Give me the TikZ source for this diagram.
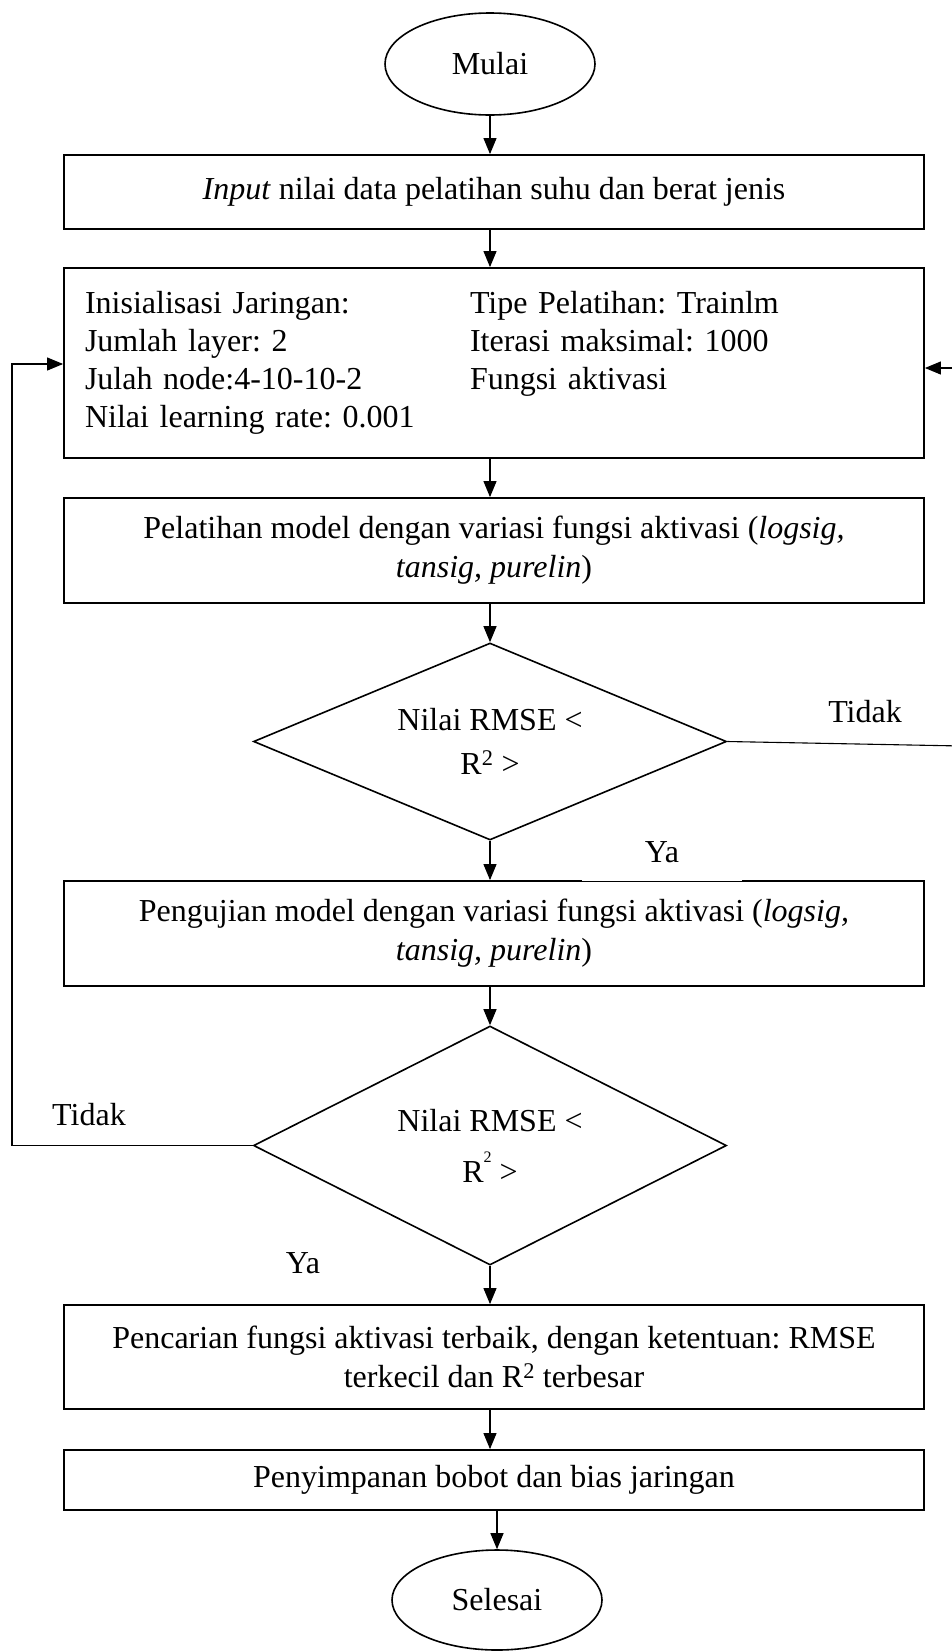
\documentclass[tikz,border=0pt]{standalone}
\usepackage{fontspec}
\setmainfont{Liberation Serif}
\usepackage{tikz}
\usetikzlibrary{shapes.geometric,arrows.meta}
\frenchspacing

\begin{document}
\begin{tikzpicture}[
  x=1pt, y=-1pt,
  font=\fontsize{32}{39}\selectfont,
  proc/.style={draw, line width=1.8pt, minimum width=860pt, align=center, inner sep=0pt},
  term/.style={draw, ellipse, line width=1.6pt, minimum width=210pt, minimum height=102pt, inner sep=0pt},
  cond/.style={draw, diamond, aspect=2.4, line width=1.6pt, minimum width=473pt, align=center, inner sep=0pt},
  lbl/.style={inner sep=0pt},
  arr/.style={-{Triangle[length=16pt,width=13pt]}, line width=1.1pt},
]
\useasboundingbox (0,0) rectangle (952,1652);
\clip (0,0) rectangle (952,1652);

\node[term] (mulai) at (490,64) {Mulai};
\node[proc, minimum height=74pt] (input) at (494,192) {\textit{Input} nilai data pelatihan suhu dan berat jenis};
\node[proc, minimum height=190pt, text width=818pt, align=left] (init) at (494,363) {%
  \fontsize{32}{38}\selectfont
  \begin{tabular}{@{}p{385pt}@{}l@{}}
  Inisialisasi Jaringan: & Tipe Pelatihan: Trainlm\\
  Jumlah layer: 2 & Iterasi maksimal: 1000\\
  Julah node:4-10-10-2 & Fungsi aktivasi\\
  Nilai learning rate: 0.001 &
  \end{tabular}};
\node[proc, minimum height=105pt] (latih) at (494,550.5) {Pelatihan model dengan variasi fungsi aktivasi (\textit{logsig,}\\\textit{tansig, purelin})};
\node[cond, minimum height=197pt] (d1) at (490,741.5) {Nilai RMSE <\\[5pt]R\textsuperscript{2} >};
\node[proc, minimum height=105pt] (uji) at (494,933.5) {Pengujian model dengan variasi fungsi aktivasi (\textit{logsig,}\\\textit{tansig, purelin})};
\node[cond, minimum height=239pt] (d2) at (490,1145.5) {Nilai RMSE <\\[12pt]R\raisebox{20pt}{\fontsize{16}{16}\selectfont 2} >};
\node[proc, minimum height=104pt] (cari) at (494,1357) {Pencarian fungsi aktivasi terbaik, dengan ketentuan: RMSE\\terkecil dan R\textsuperscript{2} terbesar};
\node[proc, minimum height=60pt] (simpan) at (494,1480) {Penyimpanan bobot dan bias jaringan};
\node[term, minimum height=100pt] (selesai) at (497,1600) {Selesai};

% labels
\node[lbl] (tidakR) at (865,712) {Tidak};
\node[lbl, fill=white, minimum width=160pt, minimum height=58pt] (ya1) at (662,852) {Ya};
\node[lbl] (tidakL) at (89,1115) {Tidak};
\node[lbl] (ya2) at (303,1263) {Ya};

% main flow
\draw[arr] (mulai) -- (mulai |- input.north);
\draw[arr] (input.south -| mulai) -- (init.north -| mulai);
\draw[arr] (init.south -| mulai) -- (latih.north -| mulai);
\draw[arr] (latih.south -| d1) -- (d1.north);
\draw[arr] (d1.south) -- (d1.south |- uji.north);
\draw[arr] (uji.south -| d2) -- (d2.north);
\draw[arr] (d2.south) -- (d2.south |- cari.north);
\draw[arr] (cari.south -| d2) -- (simpan.north -| d2);
\draw[arr] (simpan.south -| selesai) -- (selesai);

% loops back
\coordinate (kiri) at (12,0);
\coordinate (kanan) at (962,746);
\draw[arr] (d2.west) -- (d2.west -| kiri) |- ([yshift=-1pt]init.west);
\draw[line width=1.1pt] (d1.east) -- (kanan);
\draw[arr] (kanan) |- ([yshift=-5pt]init.east);
\end{tikzpicture}
\end{document}
